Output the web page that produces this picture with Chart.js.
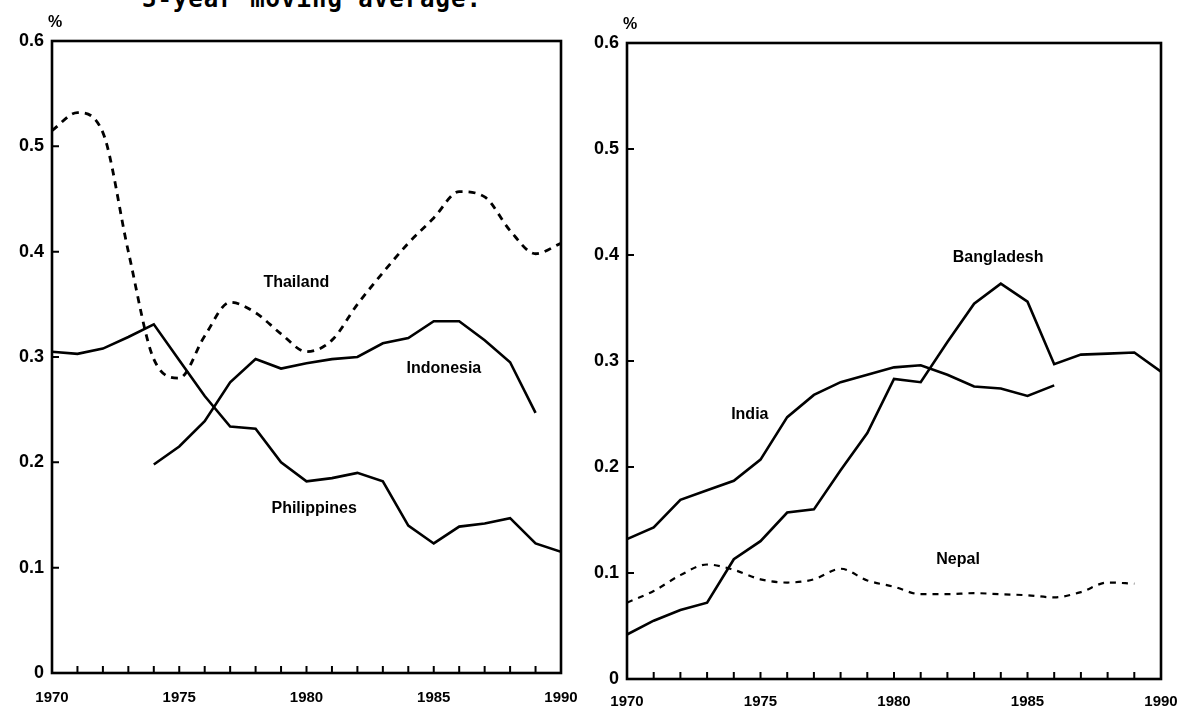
<!DOCTYPE html>
<html>
<head>
<meta charset="utf-8">
<script src="https://cdn.jsdelivr.net/npm/chart.js@4.4.1/dist/chart.umd.min.js"></script>
<style>
  body { margin: 0; background: #fff; width: 1188px; height: 708px; overflow: hidden; position: relative; }
  .panel { position: absolute; top: 0; }
  #title { position: absolute; left: 142px; top: -15px; font: bold 24px "DejaVu Sans Mono", monospace; letter-spacing: 1px; white-space: nowrap; color: #000; }
</style>
</head>
<body>
<div id="title">3-year moving average.</div>
<canvas id="leftChart" class="panel" style="left:0px" width="590" height="708"></canvas>
<canvas id="rightChart" class="panel" style="left:590px" width="598" height="708"></canvas>
<script>
// years on the x axis
const years = [1970, 1971, 1972, 1973, 1974, 1975, 1976, 1977, 1978, 1979, 1980,
               1981, 1982, 1983, 1984, 1985, 1986, 1987, 1988, 1989, 1990];
const yearLabels = [1970, 1975, 1980, 1985, 1990];
const yTicks = [0, 0.1, 0.2, 0.3, 0.4, 0.5, 0.6];

// left panel
const thailand = [0.515, 0.532, 0.513, 0.40, 0.298, 0.28, 0.32, 0.352, 0.342, 0.322, 0.305,
                  0.316, 0.35, 0.38, 0.408, 0.432, 0.457, 0.452, 0.42, 0.398, 0.408];
const indonesia = [null, null, null, null, 0.198, 0.215, 0.239, 0.276, 0.298, 0.289, 0.294,
                   0.298, 0.30, 0.313, 0.318, 0.334, 0.334, 0.316, 0.295, 0.247, null];
const philippines = [0.305, 0.303, 0.308, 0.319, 0.331, 0.297, 0.263, 0.234, 0.232, 0.20, 0.182,
                     0.185, 0.19, 0.182, 0.14, 0.123, 0.139, 0.142, 0.147, 0.123, 0.115];

// right panel
const bangladesh = [0.042, 0.055, 0.065, 0.072, 0.113, 0.13, 0.157, 0.16, 0.197, 0.232, 0.283,
                    0.28, 0.318, 0.354, 0.373, 0.356, 0.297, 0.306, 0.307, 0.308, 0.29];
const india = [0.132, 0.143, 0.169, 0.178, 0.187, 0.207, 0.247, 0.268, 0.28, 0.287, 0.294,
               0.296, 0.287, 0.276, 0.274, 0.267, 0.277, null, null, null, null];
const nepal = [0.072, 0.083, 0.098, 0.108, 0.103, 0.094, 0.091, 0.094, 0.104, 0.093, 0.087,
               0.080, 0.080, 0.081, 0.080, 0.079, 0.077, 0.082, 0.091, 0.090, null];

// series names written inside the plots (year, value)
const leftNames = [
  { text: "Thailand", x: 1979.6, y: 0.371 },
  { text: "Indonesia", x: 1985.4, y: 0.289 },
  { text: "Philippines", x: 1980.3, y: 0.156 },
];
const rightNames = [
  { text: "Bangladesh", x: 1983.9, y: 0.398 },
  { text: "India", x: 1974.6, y: 0.249 },
  { text: "Nepal", x: 1982.4, y: 0.113 },
];

function pts(vals) {
  return years.map((yr, i) => ({ x: yr, y: vals[i] })).filter(p => p.y !== null);
}

function solid(label, vals) {
  return { label, data: pts(vals), borderColor: "#000", borderWidth: 2.6, pointRadius: 0, tension: 0 };
}
function dashed(label, vals, dash, w) {
  return { label, data: pts(vals), borderColor: "#000", borderWidth: w, borderDash: dash,
           pointRadius: 0, cubicInterpolationMode: "monotone" };
}

// box round the plot, inward ticks, "%" sign and series names
const frame = {
  id: "frame",
  afterDatasetsDraw(chart, args, opts) {
    const { ctx, chartArea: a, scales: { x, y } } = chart;
    ctx.save();
    ctx.strokeStyle = "#000";
    ctx.lineWidth = 2.6;
    ctx.strokeRect(a.left, a.top, a.right - a.left, a.bottom - a.top);
    ctx.lineWidth = 2;
    ctx.beginPath();
    years.forEach(yr => {
      if (yr === 1970 || yr === 1990) return;
      const px = x.getPixelForValue(yr);
      ctx.moveTo(px, a.bottom);
      ctx.lineTo(px, a.bottom - 7);
    });
    yTicks.forEach(v => {
      if (v === 0 || v === 0.6) return;
      const py = y.getPixelForValue(v);
      ctx.moveTo(a.left, py);
      ctx.lineTo(a.left + 7, py);
    });
    ctx.stroke();
    ctx.fillStyle = "#000";
    ctx.textAlign = "center";
    ctx.textBaseline = "middle";
    ctx.font = "bold 16px 'Liberation Sans'";
    ctx.fillText("%", a.left + 3, a.top - 18);
    ctx.font = "bold 16px 'Liberation Sans'";
    (opts.names || []).forEach(n => {
      ctx.fillText(n.text, x.getPixelForValue(n.x), y.getPixelForValue(n.y));
    });
    ctx.restore();
  }
};

function makeChart(id, datasets, names, pad, yWidth, xHeight, xPad) {
  new Chart(document.getElementById(id), {
    type: "line",
    data: { datasets },
    plugins: [frame],
    options: {
      responsive: false,
      animation: false,
      devicePixelRatio: 1,
      layout: { padding: pad },
      plugins: {
        legend: { display: false },
        tooltip: { enabled: false },
        frame: { names },
      },
      scales: {
        x: {
          type: "linear",
          min: 1970,
          max: 1990,
          afterFit: s => { s.height = xHeight; s.paddingLeft = 0; s.paddingRight = 0; },
          afterBuildTicks: s => { s.ticks = yearLabels.map(v => ({ value: v })); },
          grid: { display: false, drawTicks: false },
          border: { display: false },
          ticks: {
            padding: xPad,
            color: "#000",
            font: { family: "'Liberation Sans'", size: 15, weight: "bold" },
            callback: v => String(v),
          },
        },
        y: {
          min: 0,
          max: 0.6,
          afterFit: s => { s.width = yWidth; s.paddingTop = 0; s.paddingBottom = 0; },
          afterBuildTicks: s => { s.ticks = yTicks.map(v => ({ value: v })); },
          grid: { display: false, drawTicks: false },
          border: { display: false },
          ticks: {
            padding: 8,
            color: "#000",
            font: { family: "'Liberation Sans'", size: 18, weight: "bold" },
            callback: v => (v === 0 ? "0" : v.toFixed(1)),
          },
        },
      },
    },
  });
}

makeChart("leftChart", [
  dashed("Thailand", thailand, [7, 6], 2.8),
  solid("Indonesia", indonesia),
  solid("Philippines", philippines),
], leftNames, { top: 41, right: 29, left: 0, bottom: 0 }, 52, 35, 16);

makeChart("rightChart", [
  solid("Bangladesh", bangladesh),
  solid("India", india),
  dashed("Nepal", nepal, [6, 6], 2.2),
], rightNames, { top: 43, right: 27, left: 0, bottom: 0 }, 37, 29, 14);
</script>
</body>
</html>
